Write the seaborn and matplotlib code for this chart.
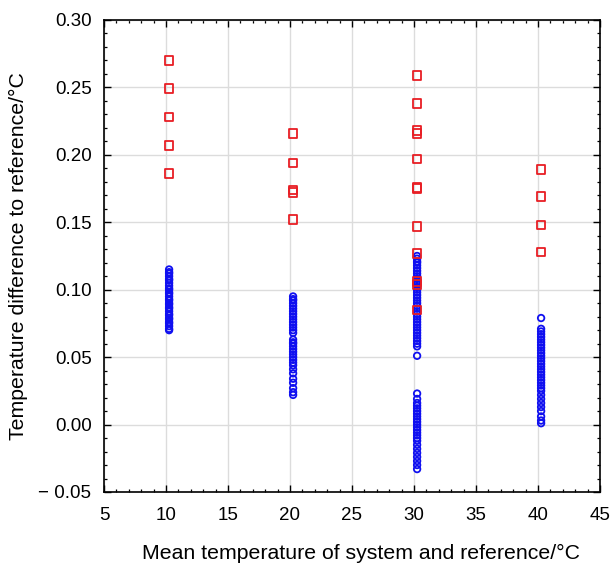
import numpy as np
import pandas as pd
import matplotlib
matplotlib.use("Agg")
import matplotlib.pyplot as plt
import seaborn as sns
from matplotlib.ticker import MultipleLocator, FuncFormatter

# ---- data ----
x_blue10, x_blue20, x_blue30, x_blue40 = 10.25, 20.25, 30.25, 40.25
blue10 = [0.115, 0.113, 0.112, 0.110, 0.108, 0.107, 0.105, 0.103, 0.101, 0.100,
          0.098, 0.097, 0.095, 0.093, 0.092, 0.090, 0.089, 0.087, 0.086, 0.084,
          0.082, 0.081, 0.079, 0.078, 0.076, 0.075, 0.073, 0.071, 0.070]
blue20 = [0.095, 0.093, 0.092, 0.090, 0.088, 0.086, 0.084, 0.082, 0.080, 0.078,
          0.076, 0.074, 0.072, 0.070, 0.068, 0.063, 0.061, 0.060, 0.058, 0.056,
          0.054, 0.052, 0.050, 0.048, 0.046, 0.044, 0.041, 0.038, 0.034, 0.031,
          0.027, 0.024, 0.022]
blue30 = [0.125, 0.123, 0.121, 0.120, 0.118, 0.116, 0.114, 0.112, 0.110, 0.108,
          0.106, 0.104, 0.102, 0.100, 0.098, 0.096, 0.094, 0.092, 0.090, 0.088,
          0.086, 0.084, 0.082, 0.080, 0.078, 0.076, 0.074, 0.072, 0.070, 0.068,
          0.066, 0.064, 0.062, 0.060, 0.058, 0.051,
          0.023, 0.019, 0.016, 0.014, 0.012, 0.010, 0.008, 0.006, 0.004, 0.002,
          0.000, -0.002, -0.004, -0.006, -0.008, -0.010, -0.012, -0.015, -0.018,
          -0.021, -0.024, -0.027, -0.030, -0.033]
blue40 = [0.079, 0.071, 0.069, 0.067, 0.065, 0.063, 0.061, 0.059, 0.057, 0.055,
          0.053, 0.051, 0.049, 0.047, 0.045, 0.043, 0.041, 0.039, 0.037, 0.035,
          0.033, 0.031, 0.029, 0.027, 0.025, 0.022, 0.019, 0.016, 0.013, 0.010,
          0.006, 0.003, 0.001]

red10 = [0.270, 0.249, 0.228, 0.207, 0.186]
red20 = [0.216, 0.194, 0.174, 0.172, 0.152]
red30 = [0.259, 0.238, 0.218, 0.216, 0.197, 0.176, 0.175, 0.147, 0.127, 0.106, 0.104, 0.085]
red40 = [0.189, 0.169, 0.148, 0.128]

x_ticks = [5, 10, 15, 20, 25, 30, 35, 40, 45]
y_ticks = [-0.05, 0.00, 0.05, 0.10, 0.15, 0.20, 0.25, 0.30]
x_label = "Mean temperature of system and reference/\u00b0C"
y_label = "Temperature difference to reference/\u00b0C"

blue_df = pd.DataFrame({
    "x": [x_blue10] * len(blue10) + [x_blue20] * len(blue20)
         + [x_blue30] * len(blue30) + [x_blue40] * len(blue40),
    "y": blue10 + blue20 + blue30 + blue40,
})
red_df = pd.DataFrame({
    "x": [x_blue10] * len(red10) + [x_blue20] * len(red20)
         + [x_blue30] * len(red30) + [x_blue40] * len(red40),
    "y": red10 + red20 + red30 + red40,
})

# ---- style ----
sns.set_style("white")
plt.rcParams["font.family"] = ["Liberation Sans", "DejaVu Sans"]
plt.rcParams["text.color"] = "black"
plt.rcParams["axes.labelcolor"] = "black"
plt.rcParams["xtick.color"] = "black"
plt.rcParams["ytick.color"] = "black"

fig = plt.figure(figsize=(6.11, 5.68), dpi=100)
ax = fig.add_axes([104 / 611, 1 - 492 / 568, 496 / 611, 472 / 568])

sns.scatterplot(data=blue_df, x="x", y="y", ax=ax, marker="o", s=22,
                facecolor="none", edgecolor="#1010f0", linewidth=1.3, zorder=3)
sns.scatterplot(data=red_df, x="x", y="y", ax=ax, marker="s", s=38,
                facecolor="none", edgecolor="#e81e24", linewidth=1.3, zorder=4)

ax.set_xlim(5, 45)
ax.set_ylim(-0.05, 0.30)
ax.set_xticks(x_ticks)
ax.set_yticks(y_ticks)
ax.xaxis.set_minor_locator(MultipleLocator(1))
ax.yaxis.set_minor_locator(MultipleLocator(0.01))
ax.yaxis.set_major_formatter(FuncFormatter(
    lambda v, p: ("\u2212 %.2f" % abs(v)) if v < -1e-9 else "%.2f" % abs(v)))
ax.xaxis.set_major_formatter(FuncFormatter(lambda v, p: "%d" % v))

ax.grid(True, which="major", color="#dcdcdc", linewidth=1.0, zorder=0)
ax.set_axisbelow(True)
for s in ax.spines.values():
    s.set_color("black")
    s.set_linewidth(1.2)

ax.tick_params(which="both", direction="in", top=True, right=True,
               bottom=True, left=True, color="black", labelcolor="black")
ax.tick_params(which="major", length=5, width=1.0, labelsize=13.5, pad=9)
ax.tick_params(which="major", axis="x", pad=11)
ax.tick_params(which="minor", length=2.5, width=0.9)

ax.set_xlabel(x_label, fontsize=15.3, color="black")
ax.set_ylabel(y_label, fontsize=15.3, color="black")
ax.xaxis.set_label_coords(0.518, -0.111)
ax.yaxis.set_label_coords(-0.153, 0.5)

fig.savefig("out.png", dpi=100)
